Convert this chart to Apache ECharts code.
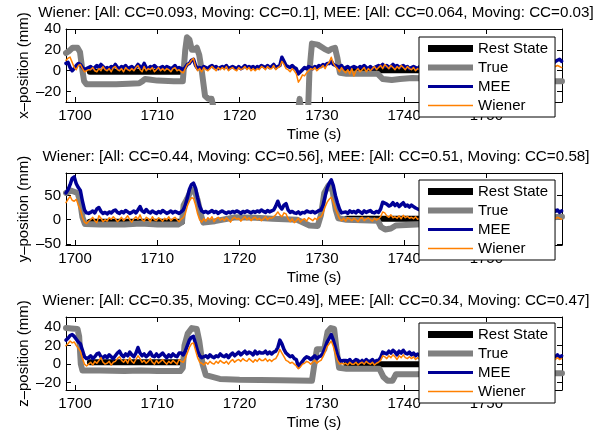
<!DOCTYPE html>
<html><head><meta charset="utf-8">
<script src="https://cdn.jsdelivr.net/npm/echarts@6/dist/echarts.min.js"></script>
<style>html,body{margin:0;padding:0;background:#fff}#c{width:607px;height:435px}</style>
</head><body><div id="c"></div>
<script>
// ---------- data ----------
const xTicks = [1700, 1710, 1720, 1730, 1740, 1750];
const yTicks1 = [-20, 0, 20, 40];
const yTicks2 = [-50, 0, 50];
const yTicks3 = [-20, 0, 20, 40];
const titleTexts = [
  'Wiener: [All: CC=0.093, Moving: CC=0.1], MEE: [All: CC=0.064, Moving: CC=0.03]',
  'Wiener: [All: CC=0.44, Moving: CC=0.56], MEE: [All: CC=0.51, Moving: CC=0.58]',
  'Wiener: [All: CC=0.35, Moving: CC=0.49], MEE: [All: CC=0.34, Moving: CC=0.47]'
];
const yNames = ['x–position (mm)', 'y–position (mm)', 'z–position (mm)'];
const legendNames = ['Rest State', 'True', 'MEE', 'Wiener'];

// sample times of the decoded signals (0.25 s steps from 1698.9 s)
const tStart = 1698.9, tStep = 0.25, tCount = 242;

// rest-state segments
const restT = [1701.8, 1713.0, 1723.0, 1733.0, 1745.0];
const rest1 = [-1, -1, null, 0.5, 0.5];
const rest2 = [-4, -4, null, 2, 2];
const rest3 = [2, 2, null, 0, 0];

// true positions (breakpoints)
const trueT1 = [1698.9,1699.3,1699.7,1700.3,1700.6,1700.9,1701.1,1701.4,1703,1705,1706.5,1707.8,1708.2,1708.5,1709,1710,1712,1713.1,1713.4,1713.6,1713.9,1714.2,1714.5,1714.8,1715.1,1715.4,1715.8,1716.2,1716.6,1717.1,1727,1727.3,1727.6,1728.3,1728.5,1728.8,1729.5,1730.3,1730.8,1731.2,1731.6,1731.9,1732.2,1733,1736.8,1737.4,1738.5,1739.5,1741,1745,1750,1755,1759.2];
const trueV1 = [17,19,22,22,18,0,-10,-13,-13,-13,-12.5,-12,-10,-8,-8.5,-9.5,-10,-10,20,32,30,20,20,22,15,0,-24,-27,-27,-45,-45,-27,-45,-45,0,26,25,21,19,21,22,12,-2,-3,-3,-8,-9,-8,-7,-8,-9,-10,-10];
const trueT2 = [1698.9,1699.5,1700.3,1700.6,1700.9,1701.2,1703,1706,1708,1710,1712.5,1713.0,1713.2,1713.6,1714.1,1714.5,1714.9,1715.3,1715.6,1717,1719.5,1722,1724,1727,1728.5,1729.5,1729.9,1730.3,1730.8,1731.3,1731.7,1732,1733,1736.8,1737.2,1737.7,1738.4,1739,1741.5,1745,1750,1758,1759.2];
const trueV2 = [55,60,55,40,5,-9,-10,-10,-8,-10,-10,-5,30,42,60,62,40,10,-6,-3,5,4,2,0,-12,-13,10,55,70,60,20,3,0,-2,-15,-20,-18,-12,-10,-6,-4,5,6];
const trueT3 = [1698.9,1700.3,1700.5,1700.7,1700.9,1703,1706,1708,1710,1712.8,1713.1,1713.3,1713.7,1714.2,1714.8,1715.1,1715.5,1715.9,1717.6,1720,1725,1728.8,1729.1,1729.4,1730.3,1730.7,1731.1,1731.5,1731.8,1732.1,1733,1737,1737.5,1738,1738.6,1739,1741.5,1745,1759.2];
const trueV3 = [39,38,30,0,-7,-7,-7.5,-7,-7.5,-7.5,-4,20,33,39,38,25,0,-12,-16,-17,-17.5,-18,0,16,16,35,39,38,15,-4,-5,-5,-14,-18,-18,-11,-11,-10,-10];

// decoded signals, x
const mee1 = [
 7,8,3,0, 2,5,7,6, 3,1,2,3, 4,2,3,5, 3,6,4,2, 3,2,4,3, 6,3,2,4, 3,5,2,3, 4,2,3,6, 4,3,7,3,
 2,4,3,5, 3,2,3,4, 2,4,3,2, 3,5,2,3, 2,1,3,6, 7,10,11,5, 2,3,2,4, 3,2,4,5, 3,4,2,3, 4,3,5,2,
 3,4,3,2, 4,2,3,5, 3,4,3,4, 2,4,3,5, 4,3,5,3, 4,6,3,4, 5,13,9,5, 4,3,5,3, 2,-3,-1,1, 3,2,4,3,
 2,4,3,5, 4,6,5,7, 7,9,6,5, 4,3,5,2, 3,4,2,3, 4,3,2,4, 3,5,3,2, 4,2,3,4, 5,4,6,4, 5,3,4,6,
 4,5,3,4, 5,3,4,2, 3,4,3,2, 4,3,5,3, 2,4,3,5, 3,5,4,2, 4,3,2,4, 5,3,4,3, 3,4,2,5, 4,2,3,4,
 3,5,4,3, 2,4,5,3, 4,3,2,4, 3,5,3,4, 5,3,4,2, 3,4,5,3, 4,2,3,5, 3,4,3,5, 4,5,3,6, 5,7,9,10,
 11,9];
const wie1 = [
 10,12,13,8, 3,1,5,6, 2,-1,0,1, 1,3,0,-1, 2,0,4,1, 0,2,-1,3, 4,1,0,2, -1,3,1,0, 2,0,3,5, 1,-1,4,0,
 2,1,3,-1, 1,3,0,2, 0,2,1,-1, 2,3,0,1, -1,-2,2,6, 7,10,12,4, 0,2,-1,3, 1,0,2,4, 2,0,3,1, 3,1,4,0,
 2,3,1,0, 3,1,2,4, 1,3,0,2, 0,2,1,4, 3,1,4,2, 2,5,1,3, 4,9,6,2, 1,-1,2,0, -3,-11,-8,-4, -5,-2,0,2,
 1,3,0,2, 3,5,2,6, 8,13,7,4, 2,-1,3,0, -2,1,-3,2, -5,0,2,-1, 1,3,-1,2, 0,2,4,1, 3,5,2,6, 4,2,5,3,
 1,4,2,5, 3,1,4,2, 1,3,0,2, 1,3,0,2, 2,0,3,1, 0,2,4,1, 3,1,0,2, 2,4,1,3, 0,2,1,4, 3,1,2,0,
 1,3,2,4, 2,0,3,1, 1,2,4,2, 3,0,2,1, 2,3,1,4, 0,2,3,1, 2,4,1,3, 1,3,2,4, 2,4,3,5, 3,5,4,5,
 4,3];
// decoded signals, y
const mee2 = [
 55,62,72,85, 88,74,66,60, 38,20,14,13, 15,18,14,22, 25,17,13,15, 12,16,14,18, 20,15,13,17, 14,19,16,13, 15,18,14,20, 27,18,15,21,
 16,14,18,15, 13,17,14,19, 16,13,15,18, 14,17,15,13, 16,20,30,45, 62,72,75,65, 45,28,18,15, 17,14,16,19, 15,17,13,16, 18,15,13,16,
 14,17,15,18, 16,13,17,15, 18,16,14,17, 15,18,16,20, 17,15,19,16, 18,20,28,38, 27,22,30,33, 20,15,17,14, 13,16,12,15, 14,18,16,15,
 17,14,16,19, 20,30,48,65, 75,82,70,50, 35,22,14,15, 16,13,18,15, 17,14,19,16, 13,18,15,17, 19,15,14,17, 15,22,36,34, 32,28,30,35,
 29,33,27,31, 35,28,30,26, 30,27,24,22, 20,18,22,17, 16,19,15,18, 17,14,18,16, 15,19,16,14, 18,15,17,20, 16,18,14,17, 19,15,18,16,
 14,17,15,19, 18,16,20,15, 17,14,18,16, 15,19,16,18, 20,17,15,18, 16,19,17,14, 18,15,19,17, 16,20,18,15, 17,19,16,21, 18,22,17,20,
 15,18];
const wie2 = [
 35,42,48,40, 38,42,30,20, 5,-5,-8,-3, 0,5,-2,-6, 8,3,-4,0, -3,4,1,6, 2,-4,0,5, -2,3,8,0, -5,2,6,1, 10,0,-3,5,
 2,-4,6,0, -2,4,1,-3, 3,0,6,-2, 2,5,0,-4, 1,4,12,28, 38,45,44,30, 12,0,-5,2, -3,4,0,6, -4,2,5,-1, 3,-2,4,0,
 -5,2,5,1, 3,-3,2,6, 0,4,-2,3, 5,0,3,-2, 2,6,0,4, 3,6,10,16, 10,6,14,12, 2,-4,2,-6, -2,3,-5,0, 2,-3,4,1,
 -2,3,0,5, 6,14,26,36, 42,46,36,22, 12,2,-2,3, -3,4,1,-2, 3,0,-4,2, 5,-2,1,4, 0,-3,3,-1, 2,6,16,14, 8,5,10,4,
 6,3,8,2, 9,4,7,3, 5,2,6,1, 3,0,4,-2, 2,5,0,3, -1,4,2,0, 3,-2,5,1, 0,3,-1,4, 2,0,5,1, -2,3,1,4,
 0,2,-3,3, 4,1,0,2, -1,3,5,0, 2,-2,4,1, 3,0,2,5, 1,4,-1,2, 3,0,4,1, -2,3,1,5, 2,4,0,3, 1,4,2,5,
 3,1];
// decoded signals, z
const mee3 = [
 26,28,31,32, 30,27,24,22, 15,8,6,7, 9,6,8,11, 12,8,7,9, 7,10,8,6, 9,12,14,10, 8,11,9,13, 10,8,12,18, 12,9,11,8,
 10,13,9,8, 11,8,10,12, 9,7,10,8, 11,9,8,12, 12,10,14,20, 26,29,30,22, 14,9,7,8, 9,7,10,8, 7,9,8,11, 9,8,10,7,
 10,12,9,11, 13,10,12,14, 11,13,12,10, 14,11,13,12, 12,14,11,13, 11,13,14,18, 26,22,16,12, 10,8,9,6, 5,-3,0,3, 6,8,7,5,
 7,9,6,8, 9,12,18,24, 28,32,26,18, 10,5,3,4, 4,3,5,2, 3,5,4,2, 4,2,5,3, 3,5,2,4, 4,7,13,12, 11,14,12,15,
 13,10,14,12, 15,12,11,13, 10,12,9,11, 9,11,8,10, 12,9,7,10, 8,11,9,7, 10,8,12,9, 7,10,8,11, 9,12,10,8, 11,8,9,12,
 10,7,9,11, 8,10,12,9, 11,9,8,10, 7,9,11,8, 10,12,9,7, 9,8,11,10, 12,9,7,10, 8,10,9,11, 7,9,8,10, 6,9,8,10,
 7,9];
const wie3 = [
 20,22,25,23, 24,20,17,14, 6,0,-2,0, 2,-1,3,1, 4,7,2,0, 1,3,-1,2, 3,6,8,4, 2,5,1,7, 3,1,5,9, 6,2,4,1,
 3,6,2,0, 4,1,3,5, 2,0,3,1, 4,2,0,5, 3,2,6,12, 18,22,23,15, 7,2,1,-1, 2,0,3,1, 0,3,1,4, 2,1,3,0,
 3,5,2,4, 5,3,6,4, 3,6,4,2, 5,3,6,4, 4,6,3,5, 3,5,6,10, 16,12,8,4, 3,1,2,0, -2,-5,-3,0, 1,3,2,0,
 2,4,1,3, 4,8,13,19, 22,25,19,11, 4,0,1,0, 1,-1,2,0, 0,2,-1,1, 2,0,3,1, 0,2,-1,1, 2,4,9,8, 6,9,7,10,
 8,5,9,7, 10,7,6,8, 6,8,5,7, 5,7,4,6, 8,5,3,6, 4,7,5,3, 6,4,8,5, 3,6,4,7, 5,8,6,4, 7,4,5,8,
 6,3,5,7, 4,6,8,5, 7,5,4,6, 3,5,7,4, 6,8,5,3, 5,4,7,6, 8,5,3,6, 4,6,5,7, 3,5,4,6, 4,6,5,7,
 5,6];

// ---------- build ----------
const FONT = '"Liberation Sans", Arial, Helvetica, sans-serif';
const sampleT = [];
for (let i = 0; i < tCount; i++) sampleT.push(+(tStart + tStep * i).toFixed(2));
const pairs = (xs, ys) => xs.map((x, i) => [x, ys[i]]);

const panels = [
  {top: 29, height: 73, yMin: -30, yMax: 40, yTicks: yTicks1, rest: rest1, tT: trueT1, tV: trueV1, mee: mee1, wie: wie1, legTop: 37},
  {top: 173, height: 72, yMin: -52, yMax: 96, yTicks: yTicks2, rest: rest2, tT: trueT2, tV: trueV2, mee: mee2, wie: wie2, legTop: 180},
  {top: 317, height: 73, yMin: -28, yMax: 51, yTicks: yTicks3, rest: rest3, tT: trueT3, tV: trueV3, mee: mee3, wie: wie3, legTop: 323}
];
const colors = {rest: '#000000', tru: '#808080', mee: '#000096', wie: '#ff8000'};
const widths = {rest: 6, tru: 6, mee: 3.5, wie: 1.5};
const fmtY = v => (v < 0 ? '–' + (-v) : String(v));
const fmtX = v => String(v);
const txt = {fontFamily: FONT, fontSize: 15, color: '#000'};

const grid = [], xAxis = [], yAxis = [], series = [], title = [], legend = [];
const axLine = {show: true, onZero: false, lineStyle: {color: '#000', width: 1}};
const tick = vals => ({show: true, inside: true, length: 5, lineStyle: {color: '#000', width: 1}, customValues: vals});

panels.forEach((p, i) => {
  grid.push({left: 66, width: 496, top: p.top, height: p.height});
  xAxis.push({type: 'value', gridIndex: i, min: 1698.9, max: 1759.2, position: 'bottom',
    axisLine: axLine, axisTick: tick(xTicks), splitLine: {show: false},
    axisLabel: Object.assign({customValues: xTicks, margin: 6, formatter: fmtX}, txt),
    name: 'Time (s)', nameLocation: 'middle', nameGap: 25, nameMoveOverlap: false, nameTextStyle: txt});
  xAxis.push({type: 'value', gridIndex: i, min: 1698.9, max: 1759.2, position: 'top',
    axisLine: axLine, axisTick: tick(xTicks), splitLine: {show: false}, axisLabel: {show: false}});
  yAxis.push({type: 'value', gridIndex: i, min: p.yMin, max: p.yMax, position: 'left',
    axisLine: axLine, axisTick: tick(p.yTicks), splitLine: {show: false},
    axisLabel: Object.assign({customValues: p.yTicks, margin: 5, formatter: fmtY}, txt),
    name: yNames[i], nameLocation: 'middle', nameGap: 35, nameMoveOverlap: false, nameTextStyle: txt});
  yAxis.push({type: 'value', gridIndex: i, min: p.yMin, max: p.yMax, position: 'right',
    axisLine: axLine, axisTick: tick(p.yTicks), splitLine: {show: false}, axisLabel: {show: false}});

  const base = {type: 'line', xAxisIndex: 2 * i, yAxisIndex: 2 * i, symbol: 'none', showSymbol: false,
    silent: true, animation: false, connectNulls: false, clip: true};
  const mk = (name, key, data) => Object.assign({}, base, {name, data, color: colors[key],
    lineStyle: {color: colors[key], width: widths[key], cap: 'round', join: 'round'}});
  series.push(mk('Rest State', 'rest', pairs(restT, p.rest)));
  series.push(mk('True', 'tru', pairs(p.tT, p.tV)));
  series.push(mk('MEE', 'mee', pairs(sampleT, p.mee)));
  series.push(mk('Wiener', 'wie', pairs(sampleT, p.wie)));

  title.push({text: titleTexts[i], left: 316, top: p.top - 24, textAlign: 'center', padding: 0,
    textStyle: {fontFamily: FONT, fontSize: 15.2, fontWeight: 'normal', color: '#000'}});

  legend.push({orient: 'vertical', left: 419, top: p.legTop, padding: [4, 7, 4, 9], itemGap: 4,
    itemWidth: 45, itemHeight: 14, backgroundColor: '#fff', borderColor: '#000', borderWidth: 1,
    borderRadius: 0, selectedMode: false, itemStyle: {borderWidth: 0},
    textStyle: {fontFamily: FONT, fontSize: 15, color: '#000', lineHeight: 14},
    data: [
      {name: legendNames[0], icon: 'path://M0,0H45V7H0Z'},
      {name: legendNames[1], icon: 'path://M0,0H45V6H0Z'},
      {name: legendNames[2], icon: 'path://M0,0H45V3H0Z'},
      {name: legendNames[3], icon: 'path://M0,0H45V1.5H0Z'}
    ]});
});

const chart = echarts.init(document.getElementById('c'), null, {renderer: 'canvas'});
chart.setOption({backgroundColor: '#fff', animation: false, title, legend, grid, xAxis, yAxis, series});
</script></body></html>
